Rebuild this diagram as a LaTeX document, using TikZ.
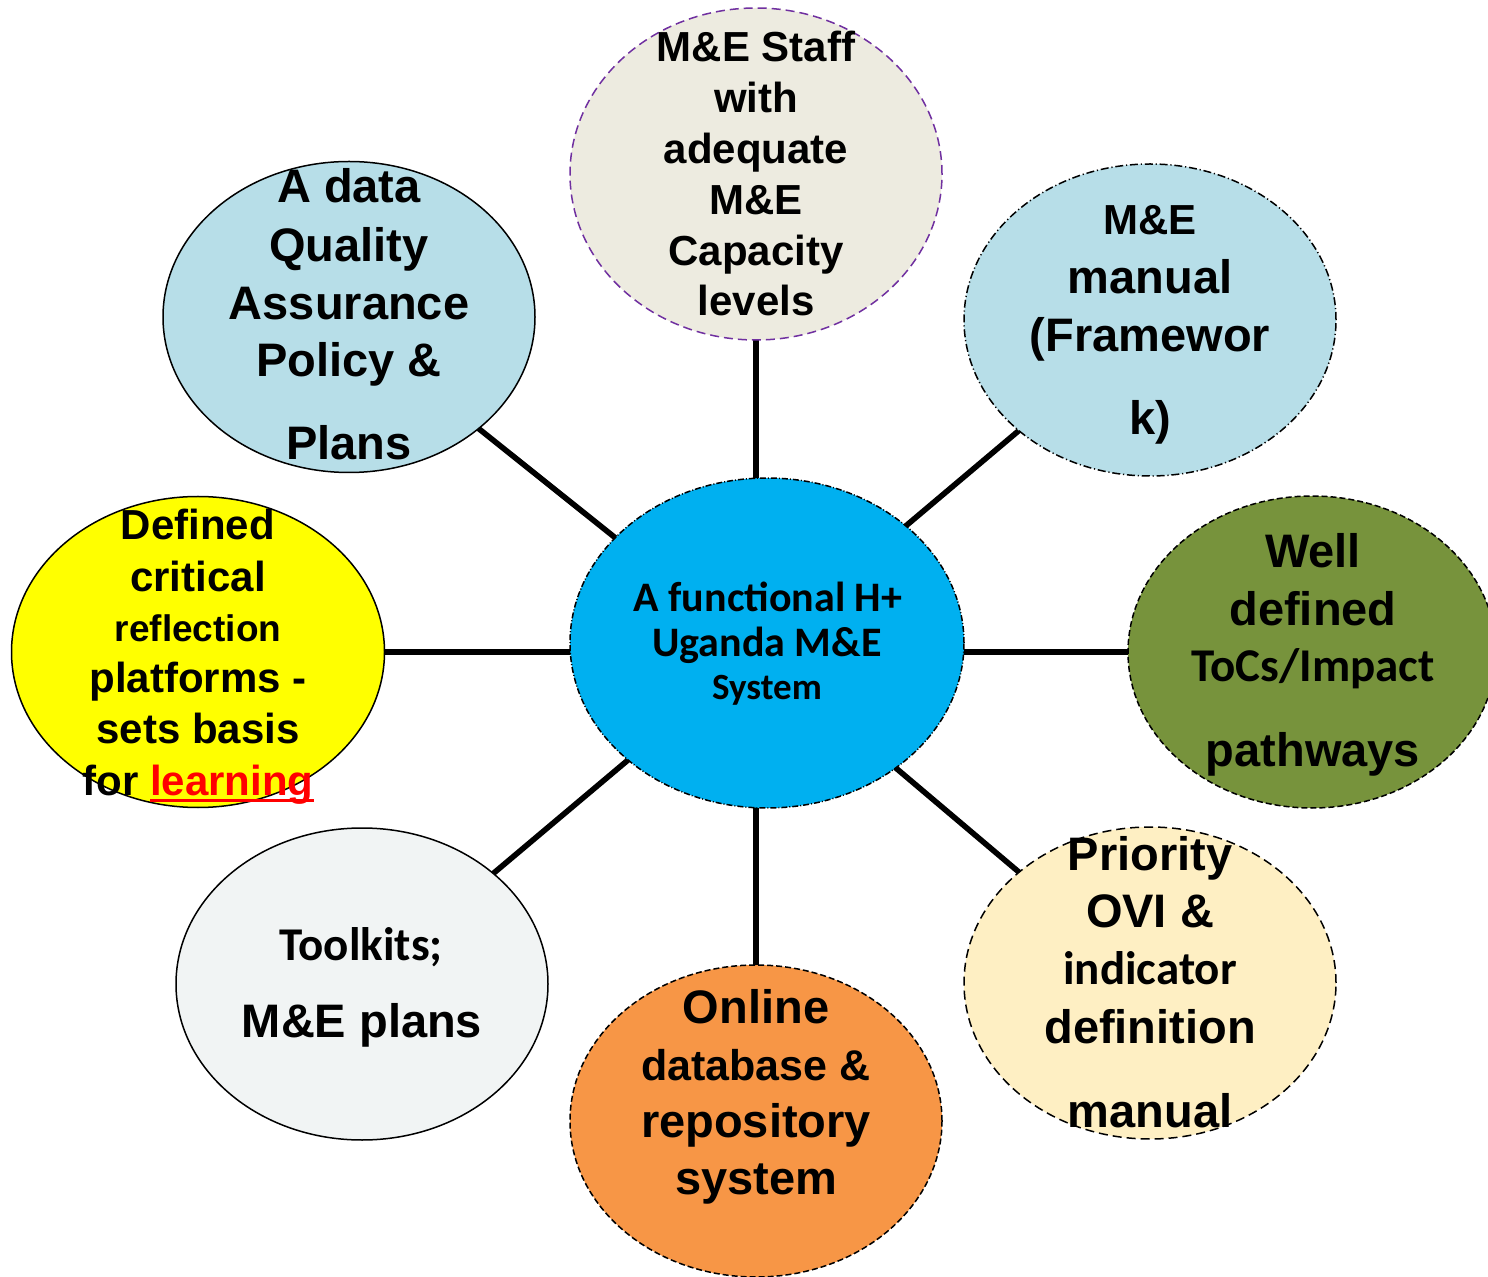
\documentclass[tikz,border=0pt]{standalone}
\usepackage{fontspec}
\setmainfont{Liberation Sans}
\newfontfamily\calib{Carlito}
\usetikzlibrary{shapes.geometric,backgrounds}
\definecolor{topfill}{HTML}{EDEBE0}
\definecolor{topline}{HTML}{7030A0}
\definecolor{bluefill}{HTML}{B7DEE8}
\definecolor{olivefill}{HTML}{77933C}
\definecolor{creamfill}{HTML}{FEEFC3}
\definecolor{orangefill}{HTML}{F79646}
\definecolor{palefill}{HTML}{F1F4F4}
\definecolor{yellowfill}{HTML}{FFFF00}
\definecolor{centerfill}{HTML}{00B0F0}
\definecolor{redtext}{HTML}{FF0000}
\newcommand\myul[1]{\setbox0\hbox{#1}\rlap{\copy0}\rule[-3.6pt]{\wd0}{1.4pt}}
\tikzset{
  bub/.style={ellipse, inner sep=0pt, line width=0.75pt, draw=black},
  conn/.style={line width=2.8pt, black},
  txt/.style={anchor=base, inner sep=0pt, font={\bfseries\fontsize{#1}{#1}\selectfont}},
  ctxt/.style={anchor=base, inner sep=0pt, font={\calib\bfseries\fontsize{#1}{#1}\selectfont}},
}
\begin{document}
\begin{tikzpicture}[x=0.5pt,y=-0.5pt]
\useasboundingbox (0,0) rectangle (1488,1277);
% ellipses
\node[bub, fill=topfill, draw=topline, dash pattern=on 4.5pt off 2.5pt, minimum width=186pt, minimum height=166pt] (top) at (756,174) {};
\node[bub, fill=bluefill, minimum width=186pt, minimum height=155.5pt] (tl) at (349,317) {};
\node[bub, fill=bluefill, dash pattern=on 4pt off 1.4pt on 0.6pt off 1.4pt, minimum width=186pt, minimum height=156pt] (tr) at (1150,320) {};
\node[bub, fill=olivefill, dash pattern=on 3pt off 1.5pt, minimum width=184pt, minimum height=156pt] (rt) at (1312,652) {};
\node[bub, fill=creamfill, dash pattern=on 4.5pt off 2.5pt, minimum width=186pt, minimum height=156pt] (br) at (1150,983) {};
\node[bub, fill=orangefill, dash pattern=on 3pt off 1.5pt, minimum width=186pt, minimum height=156pt] (bot) at (756,1121) {};
\node[bub, fill=palefill, minimum width=186pt, minimum height=156pt] (bl) at (362,984) {};
\node[bub, fill=yellowfill, minimum width=186.5pt, minimum height=155.5pt] (lt) at (198,652) {};
\node[bub, fill=centerfill, dash pattern=on 3pt off 1pt on 0.5pt off 1pt, minimum width=197pt, minimum height=165pt] (c) at (767,643) {};
% connectors (behind the ellipses)
\begin{scope}[on background layer]
\draw[conn] (top.center) -- (top.center |- c.center);
\draw[conn] (bot.center) -- (bot.center |- c.center);
\draw[conn] (lt.center) -- (lt.center -| c.center);
\draw[conn] (rt.center) -- (rt.center -| c.center);
\draw[conn] ([yshift=-4pt]tl.center) -- ([yshift=-8pt]c.center);
\draw[conn] (br.center) -- ([yshift=-8pt]c.center);
\draw[conn] (tr.center) -- (c.center);
\draw[conn] (bl.center) -- (c.center);
\end{scope}
% top
\node[txt=21pt] (top1) at (756,62) {M\&E Staff};
\node[txt=21pt] (top2) at (756,113) {with};
\node[txt=21pt] (top3) at (756,164) {adequate};
\node[txt=21pt] (top4) at (756,215) {M\&E};
\node[txt=21pt] (top5) at (756,266) {Capacity};
\node[txt=21pt] (top6) at (756,316) {levels};
% top-left
\node[txt=23.5pt] (tl1) at (349,203) {A data};
\node[txt=23.5pt] (tl2) at (349,262) {Quality};
\node[txt=23.5pt] (tl3) at (349,320) {Assurance};
\node[txt=23.5pt] (tl4) at (349,377) {Policy \&};
\node[txt=23.5pt] (tl5) at (349,460) {Plans};
% top-right
\node[txt=21pt] (tr1) at (1150,235) {M\&E};
\node[txt=23.5pt] (tr2) at (1150,294) {manual};
\node[txt=23.5pt] (tr3) at (1150,352) {(Framewor};
\node[txt=23.5pt] (tr4) at (1150,435) {k)};
% right
\node[txt=23.5pt] (rt1) at (1313,568) {Well};
\node[txt=23.5pt] (rt2) at (1313,626) {defined};
\node[ctxt=23.5pt] (rt3) at (1313,682) {ToCs/Impact};
\node[txt=23.5pt] (rt4) at (1313,766) {pathways};
% bottom-right
\node[txt=23.5pt] (br1) at (1150,870) {Priority};
\node[txt=23.5pt] (br2) at (1150,927) {OVI \&};
\node[ctxt=23.5pt] (br3) at (1150,984) {indicator};
\node[txt=23.5pt] (br4) at (1150,1043) {definition};
\node[txt=23.5pt] (br5) at (1150,1127) {manual};
% bottom
\node[txt=23.5pt] (bot1) at (756,1023) {Online};
\node[txt=21.5pt] (bot2) at (756,1080) {database \&};
\node[txt=23.5pt] (bot3) at (756,1137) {repository};
\node[txt=23.5pt] (bot4) at (756,1194) {system};
% bottom-left
\node[ctxt=23.5pt] (bl1) at (361,960) {Toolkits;};
\node[txt=23.5pt] (bl2) at (362,1037) {M\&E plans};
% left
\node[txt=21pt] (lt1) at (198,540) {Defined};
\node[txt=21pt] (lt2) at (198,592) {critical};
\node[txt=18.5pt] (lt3) at (198,642) {reflection};
\node[txt=21pt] (lt4) at (198,693) {platforms -};
\node[txt=21pt] (lt5) at (198,743) {sets basis};
\node[txt=21pt] (lt6) at (198,795) {for \textcolor{redtext}{\myul{learning}}};
% center
\node[ctxt=21pt] (c1) at (768,612) {A functional H+};
\node[ctxt=21pt] (c2) at (767,657) {Uganda M\&E};
\node[ctxt=18.5pt] (c3) at (767,700) {System};
\end{tikzpicture}
\end{document}
